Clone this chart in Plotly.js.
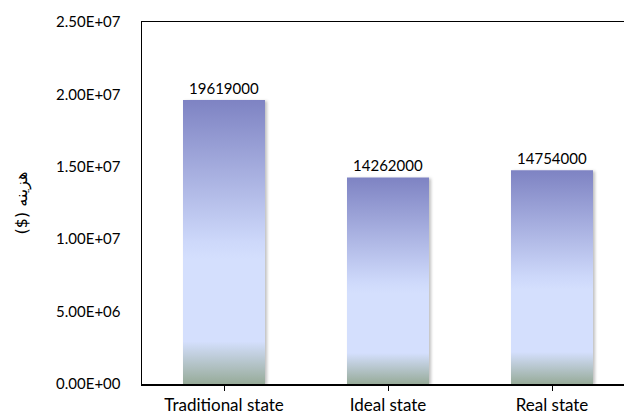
<!DOCTYPE html>
<html>
<head>
<meta charset="utf-8">
<script src="https://cdn.plot.ly/plotly-3.0.1.min.js"></script>
<style>
html,body{margin:0;padding:0;overflow:hidden;background:#fff;}
#chart{width:660px;height:417px;}
</style>
</head>
<body>
<div id="chart"></div>
<script>
var categories = ["Traditional state", "Ideal state", "Real state"];
var costs = [19619000, 14262000, 14754000];
var yTickVals = [0, 5000000, 10000000, 15000000, 20000000, 25000000];
var yTickText = ["0.00E+00", "5.00E+06", "1.00E+07", "1.50E+07", "2.00E+07", "2.50E+07"];
var yTitle = "($) هزینه";

var font = "Lato, 'Open Sans', sans-serif";

var trace = {
  type: "bar",
  x: categories,
  y: costs,
  width: 0.5,
  text: costs.map(function(v){ return String(v); }),
  textposition: "outside",
  textfont: {family: font, size: 15, color: "#000"},
  cliponaxis: false,
  marker: {color: "#b4bdf0", line: {width: 0}},
  hoverinfo: "none"
};

var layout = {
  width: 660,
  height: 417,
  margin: {l: 142, r: 26, t: 22, b: 33},
  paper_bgcolor: "#fff",
  plot_bgcolor: "#fff",
  showlegend: false,
  font: {family: font, size: 15, color: "#000"},
  xaxis: {
    range: [-0.5, 2.5],
    showline: true, linecolor: "#000", linewidth: 1.5, mirror: true,
    ticks: "outside", ticklen: 5, tickwidth: 1, tickcolor: "#000",
    showgrid: false, zeroline: false,
    tickfont: {family: font, size: 17, color: "#000"}
  },
  yaxis: {
    range: [0, 25000000],
    showline: true, linecolor: "#000", linewidth: 1.5, mirror: true,
    ticks: "", showgrid: false, zeroline: false,
    tickmode: "array", tickvals: yTickVals, ticktext: yTickText,
    ticklabelstandoff: 17,
    tickfont: {family: font, size: 15, color: "#000"},
    title: {text: yTitle, standoff: 24,
            font: {family: "'DejaVu Sans', sans-serif", size: 16, color: "#000"}}
  }
};

Plotly.newPlot("chart", [trace], layout, {staticPlot: true, displayModeBar: false}).then(function(gd){
  var svg = gd.querySelector(".main-svg");
  var ns = "http://www.w3.org/2000/svg";
  var defs = svg.querySelector("defs");
  if(!defs){ defs = document.createElementNS(ns, "defs"); svg.insertBefore(defs, svg.firstChild); }
  var grad = document.createElementNS(ns, "linearGradient");
  grad.setAttribute("id", "barGrad");
  grad.setAttribute("x1", "0"); grad.setAttribute("y1", "0");
  grad.setAttribute("x2", "0"); grad.setAttribute("y2", "1");
  [["0", "#7e83c3"], ["0.5", "#cdd8fa"], ["0.56", "#d4dffd"], ["0.85", "#d4dffd"], ["1", "#97ab99"]].forEach(function(s){
    var st = document.createElementNS(ns, "stop");
    st.setAttribute("offset", s[0]);
    st.setAttribute("stop-color", s[1]);
    grad.appendChild(st);
  });
  defs.appendChild(grad);
  var filt = document.createElementNS(ns, "filter");
  filt.setAttribute("id", "barShadow");
  filt.setAttribute("x", "-20%"); filt.setAttribute("y", "-5%");
  filt.setAttribute("width", "140%"); filt.setAttribute("height", "110%");
  var sh = document.createElementNS(ns, "feDropShadow");
  sh.setAttribute("dx", "2"); sh.setAttribute("dy", "1");
  sh.setAttribute("stdDeviation", "1.5");
  sh.setAttribute("flood-color", "#000"); sh.setAttribute("flood-opacity", "0.25");
  filt.appendChild(sh);
  defs.appendChild(filt);
  gd.querySelectorAll(".barlayer .point path").forEach(function(p){
    p.style.fill = "url(#barGrad)";
    p.style.fillOpacity = 1;
    p.setAttribute("filter", "url(#barShadow)");
  });
});
</script>
</body>
</html>
